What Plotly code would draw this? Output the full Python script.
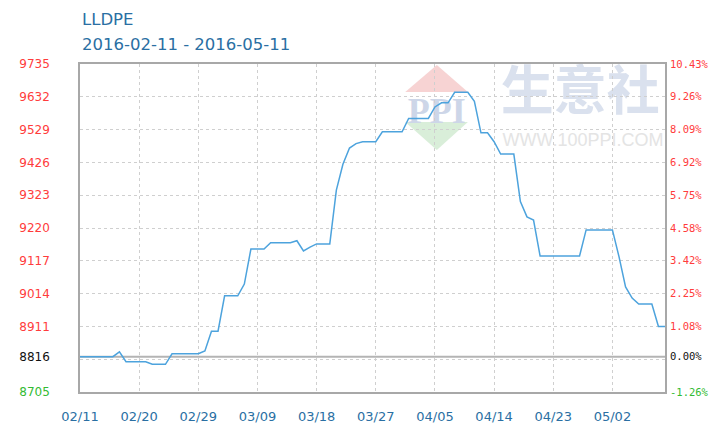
import plotly.graph_objects as go
import pandas as pd

title_text = "LLDPE"
subtitle_text = "2016-02-11 - 2016-05-11"
start_date = "2016-02-11"
base_price = 8816

prices = [
    8816, 8816, 8816, 8816, 8816, 8816, 8831, 8800, 8800, 8800,
    8800, 8792, 8792, 8792, 8825, 8825, 8825, 8825, 8825, 8834,
    8896, 8896, 9007, 9007, 9007, 9044, 9154, 9154, 9154, 9174,
    9174, 9174, 9174, 9180, 9148, 9160, 9170, 9170, 9170, 9339,
    9420, 9471, 9485, 9491, 9491, 9491, 9522, 9522, 9522, 9522,
    9564, 9564, 9564, 9564, 9600, 9613, 9613, 9646, 9646, 9646,
    9618, 9519, 9519, 9491, 9452, 9452, 9452, 9303, 9255, 9245,
    9132, 9132, 9132, 9132, 9132, 9132, 9132, 9214, 9214, 9214,
    9214, 9214, 9130, 9035, 9000, 8981, 8981, 8981, 8911, 8911,
]

y_tick_values = [9735, 9632, 9529, 9426, 9323, 9220, 9117, 9014, 8911, 8816, 8705]
y_tick_labels = ["9735", "9632", "9529", "9426", "9323", "9220", "9117", "9014", "8911", "8816", "8705"]
pct_tick_labels = ["10.43%", "9.26%", "8.09%", "6.92%", "5.75%", "4.58%", "3.42%", "2.25%", "1.08%", "0.00%", "-1.26%"]
grid_values = [9735, 9632, 9529, 9426, 9323, 9220, 9117, 9014, 8911, 8808, 8705]

x_tick_dates = ["2016-02-11", "2016-02-20", "2016-02-29", "2016-03-09", "2016-03-18",
                "2016-03-27", "2016-04-05", "2016-04-14", "2016-04-23", "2016-05-02"]
x_tick_labels = ["02/11", "02/20", "02/29", "03/09", "03/18", "03/27", "04/05", "04/14", "04/23", "05/02"]

dates = pd.date_range(start_date, periods=len(prices), freq="D")

RED = "#ff3c3c"
GREEN = "#33bb33"
BLACK = "#111111"
BLUE_TXT = "#2a6fa3"
GRID = "#cfcfcf"
BORDER = "#a8a8a8"


def colored(values, labels):
    out = []
    for v, lab in zip(values, labels):
        c = RED if v > base_price else (BLACK if v == base_price else GREEN)
        out.append(f'<span style="color:{c}">{lab}</span>')
    return out


fig = go.Figure()
fig.add_trace(go.Scatter(
    x=dates, y=prices, mode="lines",
    line=dict(color="#4da3dd", width=1.5),
    hoverinfo="skip", showlegend=False,
))
# invisible trace to activate right axis
fig.add_trace(go.Scatter(x=[dates[0]], y=[base_price], yaxis="y2", mode="markers",
                         marker=dict(opacity=0), showlegend=False, hoverinfo="skip"))

yr = [y_tick_values[-1], y_tick_values[0]]

fig.update_layout(
    width=719, height=423,
    margin=dict(l=80, r=54, t=64, b=31),
    paper_bgcolor="white", plot_bgcolor="white",
    font=dict(family="DejaVu Sans"),
    xaxis=dict(
        range=[dates[0], dates[-1]],
        tickmode="array", tickvals=x_tick_dates, ticktext=x_tick_labels,
        tickfont=dict(family="DejaVu Sans", size=13, color=BLUE_TXT),
        showgrid=True, gridcolor=GRID, griddash="dot", gridwidth=1,
        showline=True, linecolor=BORDER, linewidth=1.5, mirror=True,
        ticks="", ticklabelstandoff=12, zeroline=False, automargin=False,
    ),
    yaxis=dict(
        range=yr, tickmode="array", tickvals=y_tick_values,
        ticktext=colored(y_tick_values, y_tick_labels),
        tickfont=dict(family="DejaVu Sans", size=12, color=RED),
        showgrid=False,
        minor=dict(tickmode="array", tickvals=grid_values, showgrid=True,
                   gridcolor=GRID, griddash="dot", gridwidth=1, ticks=""),
        showline=True, linecolor=BORDER, linewidth=1.5, mirror=True,
        ticks="", ticklabelstandoff=26, zeroline=False, automargin=False,
    ),
    yaxis2=dict(
        range=yr, overlaying="y", side="right", tickmode="array",
        tickvals=y_tick_values, ticktext=colored(y_tick_values, pct_tick_labels),
        tickfont=dict(family="DejaVu Sans Mono", size=10.5, color=RED),
        showgrid=False, ticks="", ticklabelstandoff=4, zeroline=False, automargin=False,
    ),
    annotations=[
        dict(text=title_text, xref="paper", yref="paper", x=0, y=1.137,
             xanchor="left", yanchor="middle", showarrow=False,
             font=dict(family="DejaVu Sans", size=16.5, color=BLUE_TXT)),
        dict(text=subtitle_text, xref="paper", yref="paper", x=0, y=1.06,
             xanchor="left", yanchor="middle", showarrow=False,
             font=dict(family="DejaVu Sans", size=16.5, color=BLUE_TXT)),
    ],
)

# base (0%) line
fig.add_shape(type="line", xref="paper", yref="y", x0=0, x1=1, y0=base_price, y1=base_price,
              line=dict(color="#b4b4b4", width=2), layer="below")

# watermark
fig.add_shape(type="path", xref="paper", yref="paper", layer="below",
              path="M 0.610 0.997 L 0.663 0.915 L 0.556 0.915 Z",
              fillcolor="#f7d3d3", line=dict(width=0))
fig.add_shape(type="path", xref="paper", yref="paper", layer="below",
              path="M 0.556 0.823 L 0.663 0.823 L 0.610 0.738 Z",
              fillcolor="#d9eed9", line=dict(width=0))
fig.add_shape(type="rect", xref="paper", yref="paper", layer="below",
              x0=0.55, x1=0.67, y0=0.82, y1=0.92, line=dict(width=0),
              label=dict(text="<b>PPI</b>", font=dict(family="Liberation Serif", size=36, color="#cdd6e8")))
fig.add_shape(type="rect", xref="paper", yref="paper", layer="below",
              x0=0.705, x1=1.005, y0=0.83, y1=0.98, line=dict(width=0),
              label=dict(text="<b>生意社</b>", font=dict(family="Noto Sans CJK SC", size=53, color="#dae1ee")))
fig.add_shape(type="rect", xref="paper", yref="paper", layer="below",
              x0=0.72, x1=1.0, y0=0.74, y1=0.81, line=dict(width=0),
              label=dict(text="WWW.100PPI.COM", font=dict(family="Liberation Sans", size=18, color="#e4e4e4")))

fig.write_html("out.html", config={"displayModeBar": False},
               post_script="document.body.style.margin='0px';")
